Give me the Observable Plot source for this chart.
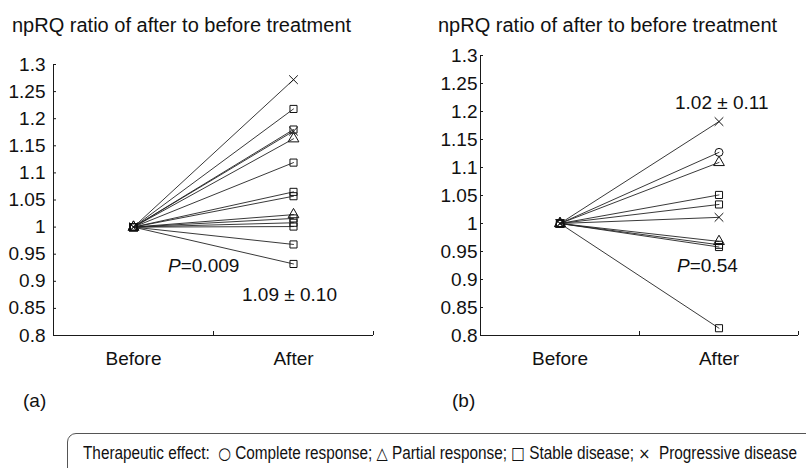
<!DOCTYPE html>
<html>
<head>
<meta charset="utf-8">
<script src="https://cdn.jsdelivr.net/npm/d3@7"></script>
<script src="https://cdn.jsdelivr.net/npm/@observablehq/plot@0.6"></script>
<style>
  html, body { margin: 0; padding: 0; background: #fff; }
  #page { position: relative; width: 806px; height: 468px; overflow: hidden; background: #fff;
          font-family: "Liberation Sans", Arial, Helvetica, sans-serif; color: #111; }
  .abs { position: absolute; white-space: pre; line-height: 1; }
  .panel { position: absolute; top: 0; }
  .sym { font-family: "DejaVu Sans", sans-serif; font-size: 0.95em; }
  #legendBox { position: absolute; left: 67px; top: 433px; width: 800px; height: 80px;
               border: 1px solid #555; border-top-left-radius: 9px; box-sizing: border-box; }
</style>
</head>
<body>
<div id="page">
  <div id="left" class="panel" style="left:0px"></div>
  <div id="right" class="panel" style="left:400px"></div>
  <div id="legendBox"></div>
</div>
<script>
// ---- data ----
const stages = ["Before", "After"];
const beforeValue = 1; // ratio normalised to pre-treatment

const effects = ["CR", "PR", "SD", "PD"];
const effectSymbols = ["circle", "triangle", "square", "times"];
const effectGlyphs = ["\u25cb", "\u25b3", "\u25a1", "\u00d7"];
const effectNames = ["Complete response", "Partial response", "Stable disease", "Progressive disease"];

// panel (a)
const leftEffect = ["PD", "SD", "SD", "PD", "PR", "SD", "SD", "SD", "PR", "SD", "SD", "SD", "SD", "SD"];
const leftAfter  = [1.272, 1.218, 1.180, 1.177, 1.163, 1.119, 1.065, 1.057, 1.023, 1.016, 1.008, 1.001, 0.968, 0.932];

// panel (b)
const rightEffect = ["PD", "CR", "PR", "SD", "SD", "PD", "PR", "SD", "SD", "SD"];
const rightAfter  = [1.182, 1.127, 1.109, 1.051, 1.034, 1.011, 0.968, 0.962, 0.958, 0.813];

const yTicks = [0.8, 0.85, 0.9, 0.95, 1, 1.05, 1.1, 1.15, 1.2, 1.25, 1.3];
const yTickLabels = ["0.8", "0.85", "0.9", "0.95", "1", "1.05", "1.1", "1.15", "1.2", "1.25", "1.3"];

const titleText = "npRQ ratio of after to before treatment";
const leftStat = "1.09 \u00b1 0.10", leftP = "0.009";
const rightStat = "1.02 \u00b1 0.11", rightP = "0.54";
const legendTitle = "Therapeutic effect:";

// ---- drawing ----
function panel(after, effect, opts) {
  const rows = after.flatMap((v, i) => [
    {id: i, stage: 1, value: beforeValue, effect: effect[i]},
    {id: i, stage: 2, value: v, effect: effect[i]}
  ]);
  const ink = "#1a1a1a";
  return Plot.plot({
    width: opts.width, height: 380,
    marginLeft: opts.marginLeft, marginRight: opts.marginRight,
    marginTop: opts.marginTop, marginBottom: 45,
    style: {fontFamily: "'Liberation Sans', Arial, sans-serif", fontSize: "19px", color: "#111",
            background: "transparent", overflow: "visible"},
    x: {type: "linear", domain: [0.5, 2.5], axis: null},
    y: {domain: [0.8, 1.3], axis: null},
    symbol: {domain: effects, range: effectSymbols},
    marks: [
      Plot.ruleX([0.5], {stroke: ink, strokeWidth: 1}),
      Plot.ruleY([0.8], {stroke: ink, strokeWidth: 1}),
      Plot.axisY(yTicks, {anchor: "left", label: null, tickSize: -3, tickPadding: opts.tickPadding,
        tickFormat: d => yTickLabels[yTicks.indexOf(d)], fontSize: 19, stroke: ink}),
      Plot.axisX([1, 2], {anchor: "bottom", label: null, tickSize: 0, tickPadding: 16,
        tickFormat: d => stages[d - 1], fontSize: 19}),
      Plot.axisX([1.5, 2.5], {anchor: "bottom", label: null, tickSize: -4, tickFormat: () => "", stroke: ink}),
      Plot.line(rows, {x: "stage", y: "value", z: "id", stroke: "#222", strokeWidth: 0.9}),
      Plot.dot(rows, {x: "stage", y: "value", symbol: "effect", r: 4, fill: "none", stroke: "#111", strokeWidth: 1})
    ]
  });
}

document.getElementById("left").append(panel(leftAfter, leftEffect,
  {width: 400, marginLeft: 53, marginRight: 27, marginTop: 64, tickPadding: 11}));
document.getElementById("right").append(panel(rightAfter, rightEffect,
  {width: 406, marginLeft: 80, marginRight: 8, marginTop: 55, tickPadding: 6}));

// text helpers: place by left edge and baseline
const page = document.getElementById("page");
function addText(html, left, baseline, size, extra = {}) {
  const el = document.createElement("div");
  el.className = "abs";
  el.innerHTML = html;
  el.style.left = left + "px";
  el.style.top = (baseline - 0.8465 * size) + "px";
  el.style.fontSize = size + "px";
  Object.assign(el.style, extra);
  page.append(el);
  return el;
}
addText(titleText, 12, 32, 20);
addText(titleText, 438, 32, 20);
addText("<i>P</i>=" + leftP, 168, 272, 19);
addText(leftStat, 242, 301, 19);
addText(rightStat, 675, 109, 19);
addText("<i>P</i>=" + rightP, 677, 272, 19);
addText("(a)", 23, 407, 19);
addText("(b)", 452, 407, 19);

const legendHtml = legendTitle + "  " + effectNames.map((n, i) =>
  `<span class="sym">${effectGlyphs[i]}</span>${i === 3 ? "  " : " "}${n}`).join("; ");
const leg = addText(legendHtml, 83, 460, 17.5, {transformOrigin: "0 0"});
const w = leg.getBoundingClientRect().width;
leg.style.transform = `scaleX(${714 / w})`;
</script>
</body>
</html>
